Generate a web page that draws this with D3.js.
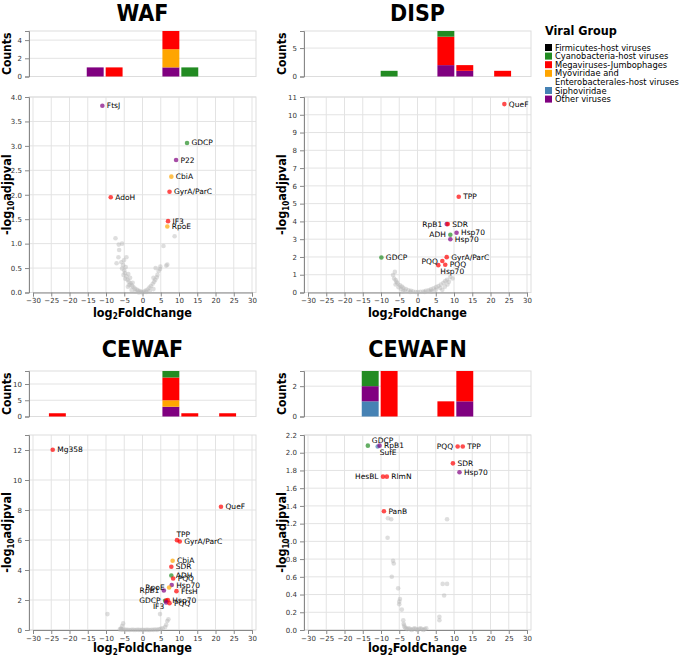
<!DOCTYPE html>
<html>
<head>
<meta charset="utf-8">
<script src="https://cdn.jsdelivr.net/npm/d3@7"></script>
<style>
  body { margin: 0; background: #fff; }
  svg { display: block; }
  .cond { font-family: 'Liberation Sans Narrow', 'DejaVu Sans', sans-serif; font-stretch: condensed; font-weight: bold; }
</style>
</head>
<body>
<div id="chart"></div>
<script>
// viral groups (legend order) and their colours
var groupKeys = ["Firm", "Cyano", "Mega", "Myo", "Sipho", "Other"];
var groupLabels = [
    ["Firmicutes-host viruses"],
    ["Cyanobacteria-host viruses"],
    ["Megaviruses-Jumbophages"],
    ["Myoviridae and", "Enterobacterales-host viruses"],
    ["Siphoviridae"],
    ["Other viruses"]
];
var groupColors = ["#000000", "#228b22", "#ff0000", "#ffa500", "#4682b4", "#800080"];
// stacking order of the histogram, bottom -> top
var stackOrder = ["Sipho", "Other", "Myo", "Mega", "Firm", "Cyano"];

var xTickValues = [-30, -25, -20, -15, -10, -5, 0, 5, 10, 15, 20, 25, 30];

// significant genes: [gene, log2FoldChange, -log10 adjpval, group]
var wafPoints = [
    ["FtsJ", -11.0, 3.82, "Other"],
    ["GDCP", 12.2, 3.06, "Cyano"],
    ["P22", 9.2, 2.71, "Other"],
    ["CbiA", 7.9, 2.37, "Myo"],
    ["GyrA/ParC", 7.4, 2.06, "Mega"],
    ["AdoH", -8.7, 1.95, "Mega"],
    ["IF3", 7.0, 1.46, "Mega"],
    ["RpoE", 6.8, 1.35, "Myo"]
];
var wafLabelSide = ["r", "r", "r", "r", "r", "r", "r", "r"];

var dispPoints = [
    ["QueF", 23.8, 10.6, "Mega"],
    ["TPP", 11.3, 5.39, "Mega"],
    ["RpB1", 8.0, 3.85, "Other"],
    ["SDR", 8.3, 3.85, "Mega"],
    ["Hsp70", 10.7, 3.36, "Other"],
    ["ADH", 9.0, 3.25, "Cyano"],
    ["Hsp70", 9.0, 3.0, "Other"],
    ["GDCP", -9.9, 1.97, "Cyano"],
    ["GyrA/ParC", 8.0, 1.99, "Mega"],
    ["PQQ", 6.8, 1.77, "Mega"],
    ["PQQ", 7.6, 1.56, "Mega"],
    ["Hsp70", 5.7, 1.54, "Mega"]
];
var dispLabelSide = ["r", "r", "l", "r", "r", "l", "r", "r", "r", "l", "r", "dr"];

var cewafPoints = [
    ["Mg358", -24.6, 12.02, "Mega"],
    ["QueF", 21.5, 8.22, "Mega"],
    ["TPP", 9.45, 5.99, "Mega"],
    ["GyrA/ParC", 10.2, 5.9, "Mega"],
    ["CbiA", 8.25, 4.62, "Myo"],
    ["SDR", 7.9, 4.22, "Mega"],
    ["ADH", 7.9, 3.63, "Cyano"],
    ["PQQ", 8.4, 3.43, "Mega"],
    ["Hsp70", 8.0, 3.0, "Other"],
    ["RpoE", 7.3, 2.83, "Myo"],
    ["RpB1", 5.85, 2.63, "Other"],
    ["FtsH", 9.3, 2.59, "Mega"],
    ["GDCP", 6.2, 1.95, "Cyano"],
    ["", 6.5, 1.97, "Mega"],
    ["Hsp70", 6.95, 1.99, "Mega"],
    ["IF3", 6.5, 1.84, "Other"],
    ["PQQ", 7.4, 1.79, "Mega"]
];
var cewafLabelSide = ["r", "r", "u", "r", "r", "r", "r", "r", "r", "l", "l", "r", "l", "r", "r", "dl", "r"];

var cewafnPoints = [
    ["GDCP", -13.6, 2.08, "Cyano"],
    ["SufE", -10.9, 2.07, "Sipho"],
    ["RpB1", -10.4, 2.08, "Other"],
    ["HesBL", -9.45, 1.73, "Mega"],
    ["RlmN", -8.4, 1.73, "Mega"],
    ["PanB", -9.2, 1.34, "Mega"],
    ["PQQ", 11.0, 2.07, "Mega"],
    ["TPP", 12.4, 2.07, "Mega"],
    ["SDR", 9.7, 1.88, "Mega"],
    ["Hsp70", 11.5, 1.78, "Other"]
];
var cewafnLabelSide = ["ur", "dr", "r", "l", "r", "r", "l", "r", "r", "r"];

// non-significant genes: [log2FoldChange, -log10 adjpval]
var wafGray = [
    [-7.4, 1.11], [-6.5, 0.98], [-5.6, 1.0], [-6.4, 0.87], [-4.4, 0.72], [-6.6, 0.72], [-7.1, 0.6],
    [-5.3, 0.56], [-5.6, 0.49], [-5.0, 0.45], [-4.8, 0.4], [-5.2, 0.36], [-4.4, 0.33], [-4.7, 0.28],
    [-4.1, 0.26], [-3.8, 0.22], [-3.3, 0.19], [-3.6, 0.15], [-2.9, 0.14], [-2.5, 0.11], [-2.1, 0.08],
    [-1.6, 0.06], [-1.2, 0.04], [-0.7, 0.03], [-0.3, 0.01], [0.0, 0.0], [0.4, 0.02], [0.9, 0.04],
    [1.4, 0.06], [1.9, 0.1], [2.3, 0.13], [2.8, 0.18], [3.2, 0.22], [3.5, 0.26], [3.9, 0.31],
    [4.1, 0.36], [3.6, 0.5], [4.8, 0.48], [4.9, 0.53], [6.5, 0.55], [6.8, 0.57], [5.75, 0.95],
    [8.8, 1.15], [-4.0, 0.12], [-3.0, 0.05], [-2.0, 0.02], [2.0, 0.03], [3.0, 0.07], [1.0, 0.01], [-1.0, 0.0],
    [-5.8, 0.62], [-5.1, 0.66], [-4.6, 0.52], [-3.9, 0.38], [-3.4, 0.3], [-2.7, 0.2], [3.0, 0.3], [4.4, 0.44]
];
var dispGray = [
    [-6.2, 1.16], [-6.7, 0.98], [-6.4, 0.79], [-5.75, 0.6], [-6.0, 0.7], [-5.5, 0.52], [-4.8, 0.41],
    [-4.3, 0.33], [-3.9, 0.26], [-3.2, 0.19], [-2.5, 0.13], [-1.8, 0.09], [-1.2, 0.06], [-0.5, 0.03],
    [0.1, 0.02], [0.8, 0.04], [1.6, 0.06], [2.3, 0.09], [3.0, 0.13], [3.7, 0.18], [4.4, 0.23],
    [5.1, 0.3], [5.75, 0.36], [6.4, 0.45], [7.1, 0.55], [7.6, 0.64], [8.1, 0.72], [9.0, 0.87],
    [9.6, 0.79], [8.6, 0.6], [7.5, 0.33], [6.2, 0.25], [5.0, 0.15], [3.5, 0.08], [2.0, 0.03],
    [-2.0, 0.03], [-3.5, 0.1], [-4.5, 0.2], [-5.2, 0.3], [-6.0, 0.45], [4.0, 0.05], [-4.0, 0.05],
    [6.8, 0.15], [8.2, 0.45]
];
var cewafGray = [
    [-9.6, 1.06], [-5.3, 0.44], [-5.6, 0.27], [-5.8, 0.05], [-5.5, 0.02], [-5.0, 0.03], [-4.5, 0.01],
    [-4.0, 0.02], [-3.5, 0.0], [-3.0, 0.02], [-2.5, 0.01], [-2.0, 0.0], [-1.5, 0.02], [-1.0, 0.01],
    [-0.5, 0.0], [0.0, 0.01], [0.5, 0.0], [1.0, 0.02], [1.5, 0.01], [2.0, 0.0], [2.5, 0.02],
    [3.0, 0.01], [3.5, 0.03], [4.0, 0.01], [4.5, 0.05], [5.0, 0.08], [4.8, 1.06], [7.1, 0.71],
    [6.8, 0.6], [6.5, 0.35], [6.2, 0.2], [5.5, 0.12], [-5.9, 0.1], [-6.2, 0.04]
];
var cewafnGray = [
    [-8.1, 1.26], [-7.2, 1.25], [8.1, 1.25], [-8.2, 1.04], [-6.7, 0.78], [-6.5, 0.75], [-7.05, 0.6],
    [-5.3, 0.47], [-4.8, 0.35], [-5.0, 0.32], [-5.0, 0.29], [-4.3, 0.23], [-3.9, 0.11], [-3.65, 0.05],
    [-3.5, 0.03], [-3.2, 0.02], [-2.8, 0.01], [-2.4, 0.02], [-2.0, 0.01], [-1.6, 0.0], [-1.2, 0.01],
    [-0.8, 0.02], [-0.4, 0.01], [0.0, 0.0], [0.4, 0.01], [0.8, 0.02], [1.2, 0.01], [1.6, 0.0],
    [2.0, 0.01], [2.4, 0.02], [-3.8, 0.07], [6.9, 0.52], [8.1, 0.52], [7.3, 0.39], [6.0, 0.15], [6.0, 0.11]
];

var panels = [
    {name: "WAF", pts: wafPoints, side: wafLabelSide, gray: wafGray, yMax: 4, yTicks: 8, yFmt: ".1f", col: 0, row: 0},
    {name: "DISP", pts: dispPoints, side: dispLabelSide, gray: dispGray, yMax: 11, yTicks: 11, yFmt: "d", col: 1, row: 0},
    {name: "CEWAF", pts: cewafPoints, side: cewafLabelSide, gray: cewafGray, yMax: 13, yTicks: 6, yFmt: "d", col: 0, row: 1},
    {name: "CEWAFN", pts: cewafnPoints, side: cewafnLabelSide, gray: cewafnGray, yMax: 2.2, yTicks: 10, yFmt: ".1f", col: 1, row: 1}
];

//layout
var W = 684, H = 656;
var cols = [{l: 29, r: 256}, {l: 304, r: 531}];
var rows = [
    {title: 21, hT: 31, hB: 76.5, vT: 97, vB: 292.5, xLab: 316.5},
    {title: 357, hT: 371, hB: 416.5, vT: 435, vB: 630, xLab: 652}
];
var TEXT_FONT = "'DejaVu Sans',Verdana,sans-serif";
var GRID = "#e3e3e3";
var AXIS = "#888";

var labelOffset = {
    r: [4.5, 2.5, "start"], l: [-4.5, 2.5, "end"], u: [-0.5, -3, "start"],
    ur: [4, -3, "start"], dr: [2, 8.5, "start"], dl: [-2, 6.5, "end"]
};

var colorOf = d3.scaleOrdinal().domain(groupKeys).range(groupColors);

var svg = d3.select("#chart").append("svg")
    .attr("width", W)
    .attr("height", H);

function styleAxis(sel) {
    sel.select(".domain").attr("stroke", AXIS);
    sel.selectAll(".tick line").attr("stroke", AXIS);
    sel.selectAll(".tick text")
        .attr("fill", "#333")
        .style("font-family", TEXT_FONT)
        .style("font-size", "7px");
}

panels.forEach(function (p) {
    var c = cols[p.col], r = rows[p.row];
    var cx = (c.l + c.r) / 2;
    var g = svg.append("g");

    //title
    g.append("text")
        .attr("class", "cond")
        .attr("x", cx)
        .attr("y", r.title)
        .attr("text-anchor", "middle")
        .style("font-size", "23px")
        .text(p.name);

    /*************** histogram of significant genes, stacked by group ***************/
    var binned = {};
    p.pts.forEach(function (d) {
        var b = Math.floor(d[1] / 5) * 5;
        if (!binned[b]) binned[b] = {};
        binned[b][d[3]] = (binned[b][d[3]] || 0) + 1;
    });
    var segs = [];
    var maxTotal = 0;
    Object.keys(binned).forEach(function (k) {
        var acc = 0;
        stackOrder.forEach(function (grp) {
            var n = binned[k][grp] || 0;
            if (n > 0) {
                segs.push({b0: +k, b1: +k + 5, y0: acc, y1: acc + n, grp: grp});
                acc += n;
            }
        });
        maxTotal = Math.max(maxTotal, acc);
    });

    var hx = d3.scaleLinear().domain([-30, 30]).range([c.l, c.r]);
    var hy = d3.scaleLinear().domain([0, maxTotal]).range([r.hB, r.hT]);

    g.append("g").selectAll("line").data(hy.ticks(2)).join("line")
        .attr("x1", c.l).attr("x2", c.r)
        .attr("y1", function (d) { return hy(d); })
        .attr("y2", function (d) { return hy(d); })
        .attr("stroke", GRID);
    g.append("rect")
        .attr("x", c.l).attr("y", r.hT)
        .attr("width", c.r - c.l).attr("height", r.hB - r.hT)
        .attr("fill", "none").attr("stroke", "#ddd");

    g.append("g").selectAll("rect").data(segs).join("rect")
        .attr("x", function (d) { return hx(d.b0) + 1; })
        .attr("width", function (d) { return hx(d.b1) - hx(d.b0) - 2; })
        .attr("y", function (d) { return hy(d.y1); })
        .attr("height", function (d) { return hy(d.y0) - hy(d.y1); })
        .attr("fill", function (d) { return colorOf(d.grp); });

    g.append("g")
        .attr("transform", "translate(" + c.l + ",0)")
        .call(d3.axisLeft(hy).ticks(2).tickSize(4).tickPadding(3))
        .call(styleAxis);

    g.append("text")
        .attr("class", "cond")
        .attr("transform", "translate(" + (c.l - 18) + "," + ((r.hT + r.hB) / 2) + ") rotate(-90)")
        .attr("text-anchor", "middle")
        .style("font-size", "12px")
        .text("Counts");

    /*************** volcano plot ***************/
    var vx = d3.scaleLinear().domain([-30, 30]).range([c.l + 4, c.r - 4]);
    var vy = d3.scaleLinear().domain([0, p.yMax]).range([r.vB, r.vT]);
    var yt = vy.ticks(p.yTicks);

    g.append("g").selectAll("line").data(xTickValues).join("line")
        .attr("x1", function (d) { return vx(d); })
        .attr("x2", function (d) { return vx(d); })
        .attr("y1", r.vT).attr("y2", r.vB)
        .attr("stroke", GRID);
    g.append("g").selectAll("line").data(yt).join("line")
        .attr("x1", c.l).attr("x2", c.r)
        .attr("y1", function (d) { return vy(d); })
        .attr("y2", function (d) { return vy(d); })
        .attr("stroke", GRID);
    g.append("rect")
        .attr("x", c.l).attr("y", r.vT)
        .attr("width", c.r - c.l).attr("height", r.vB - r.vT)
        .attr("fill", "none").attr("stroke", "#ddd");

    g.append("g")
        .attr("transform", "translate(0," + r.vB + ")")
        .call(d3.axisBottom(vx).tickValues(xTickValues).tickSize(4).tickPadding(2))
        .call(styleAxis);
    g.append("g")
        .attr("transform", "translate(" + c.l + ",0)")
        .call(d3.axisLeft(vy).tickValues(yt).tickFormat(d3.format(p.yFmt)).tickSize(4).tickPadding(3))
        .call(styleAxis);

    //grey (not significant) points
    g.append("g").selectAll("circle").data(p.gray).join("circle")
        .attr("cx", function (d) { return vx(d[0]); })
        .attr("cy", function (d) { return vy(d[1]); })
        .attr("r", 2.3)
        .attr("fill", "#b5b5b5")
        .attr("fill-opacity", 0.45);

    //coloured points
    g.append("g").selectAll("circle").data(p.pts).join("circle")
        .attr("cx", function (d) { return vx(d[1]); })
        .attr("cy", function (d) { return vy(d[2]); })
        .attr("r", 2.3)
        .attr("fill", function (d) { return colorOf(d[3]); })
        .attr("fill-opacity", 0.7);

    //gene labels
    g.append("g").selectAll("text").data(p.pts).join("text")
        .attr("x", function (d, i) { return vx(d[1]) + labelOffset[p.side[i]][0]; })
        .attr("y", function (d, i) { return vy(d[2]) + labelOffset[p.side[i]][1]; })
        .attr("text-anchor", function (d, i) { return labelOffset[p.side[i]][2]; })
        .style("font-family", TEXT_FONT)
        .style("font-size", "7.5px")
        .attr("fill", "#000")
        .text(function (d) { return d[0]; });

    //axis titles
    var xl = g.append("text")
        .attr("class", "cond")
        .attr("x", cx)
        .attr("y", r.xLab)
        .attr("text-anchor", "middle")
        .style("font-size", "12.5px");
    xl.append("tspan").text("log");
    xl.append("tspan").attr("dy", 2.5).style("font-size", "8px").text("2");
    xl.append("tspan").attr("dy", -2.5).text("FoldChange");

    var yl = g.append("text")
        .attr("class", "cond")
        .attr("transform", "translate(" + (c.l - 18) + "," + ((r.vT + r.vB) / 2) + ") rotate(-90)")
        .attr("text-anchor", "middle")
        .style("font-size", "12.5px");
    yl.append("tspan").text("-log");
    yl.append("tspan").attr("dy", 3).style("font-size", "8px").text("10");
    yl.append("tspan").attr("dy", -3).text("adjpval");
});

/*************** legend ***************/
var legend = svg.append("g").attr("transform", "translate(545,0)");
legend.append("text")
    .attr("class", "cond")
    .attr("x", 0)
    .attr("y", 35)
    .style("font-size", "12.5px")
    .text("Viral Group");

var lineNo = 0;
groupKeys.forEach(function (k, i) {
    var y = 47.5 + 8.6 * lineNo;
    legend.append("rect")
        .attr("x", 0).attr("y", y - 3.5)
        .attr("width", 7).attr("height", 7)
        .attr("fill", groupColors[i]);
    groupLabels[i].forEach(function (txt, j) {
        legend.append("text")
            .attr("x", 10)
            .attr("y", y + 3 + 8.6 * j)
            .style("font-family", TEXT_FONT)
            .style("font-size", "8.3px")
            .attr("fill", "#000")
            .text(txt);
    });
    lineNo += groupLabels[i].length;
});
</script>
</body>
</html>
